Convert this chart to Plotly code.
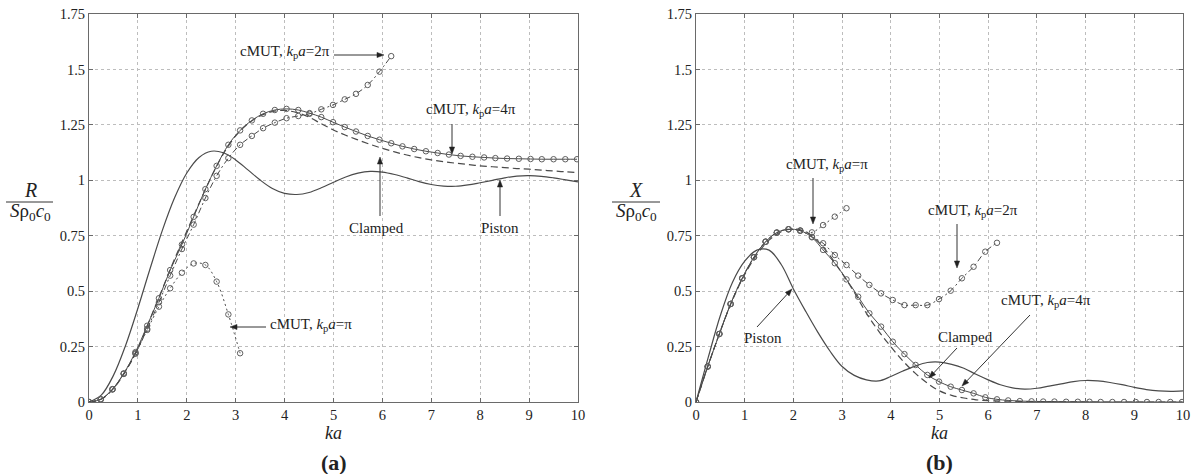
import math
import plotly.graph_objects as go

W, H = 1195, 474

# ---------------- data ----------------
# uniform theory grid (ka)
ka_th = [0, 0.25, 0.5, 0.75, 1.0, 1.25, 1.5, 1.75, 2.0, 2.25, 2.5, 2.75, 3.0, 3.25, 3.5, 3.75,
         4.0, 4.25, 4.5, 4.75, 5.0, 5.25, 5.5, 5.75, 6.0, 6.25, 6.5, 6.75, 7.0, 7.25, 7.5, 7.75,
         8.0, 8.25, 8.5, 8.75, 9.0, 9.25, 9.5, 9.75, 10.0]

# (a) normalised resistance R/(S rho0 c0)
R_piston = [0, 0.031, 0.120, 0.256, 0.423, 0.602, 0.774, 0.921, 1.033, 1.103, 1.131, 1.124, 1.092,
            1.047, 1.001, 0.963, 0.941, 0.936, 0.945, 0.966, 0.991, 1.015, 1.032, 1.040, 1.037,
            1.026, 1.011, 0.994, 0.981, 0.974, 0.973, 0.979, 0.989, 1.000, 1.011, 1.019, 1.021,
            1.018, 1.011, 1.002, 0.993]
R_clamped = [0, 0.013, 0.06, 0.14, 0.24, 0.375, 0.51, 0.645, 0.77, 0.895, 1.015, 1.12, 1.20, 1.255,
             1.29, 1.31, 1.315, 1.305, 1.285, 1.255, 1.227, 1.203, 1.182, 1.162, 1.144, 1.128,
             1.114, 1.102, 1.092, 1.084, 1.077, 1.071, 1.065, 1.061, 1.057, 1.053, 1.050, 1.046,
             1.042, 1.038, 1.035]

# (b) normalised reactance X/(S rho0 c0)
X_piston = [0, 0.20, 0.39, 0.54, 0.635, 0.685, 0.685, 0.62, 0.51, 0.41, 0.315, 0.23, 0.16, 0.12,
            0.10, 0.095, 0.115, 0.14, 0.162, 0.178, 0.18, 0.17, 0.152, 0.125, 0.10, 0.078, 0.064,
            0.058, 0.062, 0.072, 0.082, 0.092, 0.097, 0.095, 0.088, 0.078, 0.066, 0.056, 0.05,
            0.048, 0.05]
X_clamped = [0, 0.165, 0.32, 0.46, 0.575, 0.665, 0.73, 0.768, 0.78, 0.768, 0.725, 0.66, 0.58, 0.495,
             0.40, 0.32, 0.25, 0.185, 0.13, 0.085, 0.05, 0.03, 0.018, 0.01, 0.006, 0.004, 0.003,
             0.002, 0.002, 0.001, 0.001, 0.001, 0, 0, 0, 0, 0, 0, 0, 0, 0]

# cMUT (FEM) sample points
ka_fem = [0, 0.24, 0.48, 0.71, 0.95, 1.19, 1.43, 1.66, 1.90, 2.14, 2.38, 2.61, 2.85, 3.09, 3.33,
          3.56, 3.80, 4.04, 4.28, 4.51, 4.75, 4.99, 5.23, 5.46, 5.70, 5.94, 6.18, 6.41, 6.65, 6.89,
          7.13, 7.36, 7.60, 7.84, 8.08, 8.31, 8.55, 8.79, 9.03, 9.26, 9.50, 9.74, 9.98]

R_4pi = [0, 0.012, 0.058, 0.129, 0.225, 0.344, 0.468, 0.595, 0.71, 0.835, 0.96, 1.065, 1.16, 1.225,
         1.27, 1.30, 1.317, 1.322, 1.317, 1.303, 1.285, 1.262, 1.24, 1.22, 1.20, 1.183, 1.167,
         1.153, 1.141, 1.131, 1.123, 1.116, 1.110, 1.106, 1.103, 1.100, 1.098, 1.097, 1.096,
         1.095, 1.095, 1.095, 1.095]
R_2pi = [0, 0.012, 0.057, 0.127, 0.218, 0.33, 0.45, 0.57, 0.69, 0.80, 0.92, 1.02, 1.10, 1.16, 1.20,
         1.235, 1.26, 1.28, 1.29, 1.30, 1.32, 1.34, 1.365, 1.39, 1.43, 1.49, 1.56]
R_pi = [0, 0.012, 0.057, 0.127, 0.22, 0.325, 0.43, 0.513, 0.583, 0.625, 0.618, 0.543, 0.395, 0.22]

X_4pi = [0, 0.16, 0.307, 0.442, 0.558, 0.653, 0.723, 0.764, 0.779, 0.773, 0.743, 0.686, 0.626,
         0.553, 0.475, 0.40, 0.34, 0.272, 0.216, 0.167, 0.122, 0.092, 0.069, 0.054, 0.039, 0.021,
         0.012, 0.007, 0.004, 0.003, 0.002, 0.002, 0.001, 0.001, 0.001, 0, 0, 0, 0, 0, 0, 0, 0]
X_2pi = [0, 0.16, 0.307, 0.442, 0.558, 0.653, 0.723, 0.764, 0.779, 0.773, 0.745, 0.716, 0.663,
         0.618, 0.57, 0.528, 0.49, 0.46, 0.437, 0.437, 0.437, 0.464, 0.502, 0.558, 0.61, 0.678,
         0.718]
X_pi = [0, 0.16, 0.307, 0.442, 0.558, 0.653, 0.723, 0.764, 0.779, 0.773, 0.765, 0.798, 0.836,
        0.874]

x_ticks = [0, 1, 2, 3, 4, 5, 6, 7, 8, 9, 10]
y_ticks = [0, 0.25, 0.5, 0.75, 1, 1.25, 1.5, 1.75]
y_tick_text = ["0", "0.25", "0.5", "0.75", "1", "1.25", "1.5", "1.75"]

# ---------------- layout geometry (pixels) ----------------
L1, R1 = 89, 578
L2, R2 = 696, 1183
TOP, BOT = 14, 402

def px(x):
    return x / W

def py(y):
    return 1 - y / H

FONT = "Liberation Serif"
LINE = "#4a4a4a"
MK = "#5f5f5f"

fig = go.Figure()

def add_panel(xa, ya, piston, clamped, fem4, fem2, fem1):
    common = dict(xaxis=xa, yaxis=ya, showlegend=False, hoverinfo="skip")
    mk = dict(symbol="circle-open", size=5.5, color=MK, line=dict(width=1))
    fig.add_trace(go.Scatter(x=ka_th, y=piston, mode="lines",
                             line=dict(color=LINE, width=1.2, shape="spline"), **common))
    fig.add_trace(go.Scatter(x=ka_th, y=clamped, mode="lines",
                             line=dict(color=LINE, width=1.2, dash="7px,4px", shape="spline"), **common))
    fig.add_trace(go.Scatter(x=ka_fem[:len(fem4)], y=fem4, mode="lines+markers",
                             line=dict(color=LINE, width=1.0, shape="spline"), marker=mk, **common))
    fig.add_trace(go.Scatter(x=ka_fem[:len(fem2)], y=fem2, mode="lines+markers",
                             line=dict(color=LINE, width=1.0, dash="6px,3px,2px,3px", shape="spline"),
                             marker=mk, **common))
    fig.add_trace(go.Scatter(x=ka_fem[:len(fem1)], y=fem1, mode="lines+markers",
                             line=dict(color=LINE, width=1.0, dash="2px,3px", shape="spline"),
                             marker=mk, **common))

add_panel("x", "y", R_piston, R_clamped, R_4pi, R_2pi, R_pi)
add_panel("x2", "y2", X_piston, X_clamped, X_4pi, X_2pi, X_pi)

axis_common = dict(showline=True, linecolor="#6a6a6a", linewidth=1, mirror="ticks",
                   ticks="inside", ticklen=4, tickcolor="#6a6a6a",
                   showgrid=True, gridcolor="#bdbdbd", griddash="dot", gridwidth=1,
                   zeroline=False, tickfont=dict(family=FONT, size=14.5, color="#222"),
                   automargin=False, fixedrange=True)

fig.update_layout(
    width=W, height=H,
    margin=dict(l=0, r=0, t=0, b=0),
    paper_bgcolor="white", plot_bgcolor="white",
    xaxis=dict(domain=[px(L1), px(R1)], range=[0, 10], tickvals=x_ticks, anchor="y", **axis_common),
    yaxis=dict(domain=[py(BOT), py(TOP)], range=[0, 1.75], tickvals=y_ticks, ticktext=y_tick_text,
               anchor="x", **axis_common),
    xaxis2=dict(domain=[px(L2), px(R2)], range=[0, 10], tickvals=x_ticks, anchor="y2", **axis_common),
    yaxis2=dict(domain=[py(BOT), py(TOP)], range=[0, 1.75], tickvals=y_ticks, ticktext=y_tick_text,
                anchor="x2", **axis_common),
)

ann = []
shapes = []

def text(x, y, s, size=15, **kw):
    ann.append(dict(x=px(x), y=py(y), xref="paper", yref="paper", text=s, showarrow=False,
                    xanchor="center", yanchor="middle",
                    font=dict(family=FONT, size=size, color="#222"), **kw))

def arrow(x0, y0, x1, y1, hl=7.0, hw=2.6):
    # tail (x0,y0) -> head (x1,y1), pixel positions; line + filled triangle head
    d = math.hypot(x1 - x0, y1 - y0)
    ux, uy = (x1 - x0) / d, (y1 - y0) / d
    bx, by = x1 - ux * hl, y1 - uy * hl
    nx, ny = -uy, ux
    shapes.append(dict(type="line", xref="paper", yref="paper",
                       x0=px(x0), y0=py(y0), x1=px(bx), y1=py(by),
                       line=dict(color="#333", width=1)))
    path = "M {:.5f} {:.5f} L {:.5f} {:.5f} L {:.5f} {:.5f} Z".format(
        px(x1), py(y1), px(bx + nx * hw), py(by + ny * hw), px(bx - nx * hw), py(by - ny * hw))
    shapes.append(dict(type="path", xref="paper", yref="paper", path=path,
                       fillcolor="#222", line=dict(color="#222", width=0.5)))

kp = lambda m: "cMUT, <i>k</i><sub>p</sub><i>a</i>=" + m

# panel (a) labels
text(285, 52, kp("2π"))
arrow(334, 55, 384, 55)
text(471, 110, kp("4π"))
arrow(452, 124, 452, 154)
text(376, 228, "Clamped")
arrow(380, 216, 380, 157)
text(500, 228, "Piston")
arrow(500, 216, 500, 180)
text(311, 325, kp("π"))
arrow(266, 327, 230, 327)

# panel (b) labels
text(827, 165, kp("π"))
arrow(813, 178, 813, 224)
text(973, 211, kp("2π"))
arrow(957, 224, 957, 268)
text(1046, 301, kp("4π"))
arrow(1030, 315, 962, 386)
text(965, 337, "Clamped")
arrow(957, 348, 929, 378)
text(763, 338, "Piston")
arrow(757, 327, 792, 289)

# axis titles and panel tags
for cx, tag in (((L1 + R1) / 2, "(a)"), ((L2 + R2) / 2, "(b)")):
    text(cx, 433, "<i>ka</i>", size=18)
    text(cx, 462, "<b>" + tag + "</b>", size=22)

# y-axis fraction labels
for cx, num, x0, x1 in ((30, "R", 6, 53), (636, "X", 612, 660)):
    text(cx, 190, "<i>" + num + "</i>", size=20)
    text(cx, 212, "<i>S</i>ρ<sub>0</sub><i>c</i><sub>0</sub>", size=19)
    shapes.append(dict(type="line", xref="paper", yref="paper", x0=px(x0), x1=px(x1),
                       y0=py(202), y1=py(202), line=dict(color="#333", width=1)))

fig.update_layout(annotations=ann, shapes=shapes)

fig.write_html("out.html")
